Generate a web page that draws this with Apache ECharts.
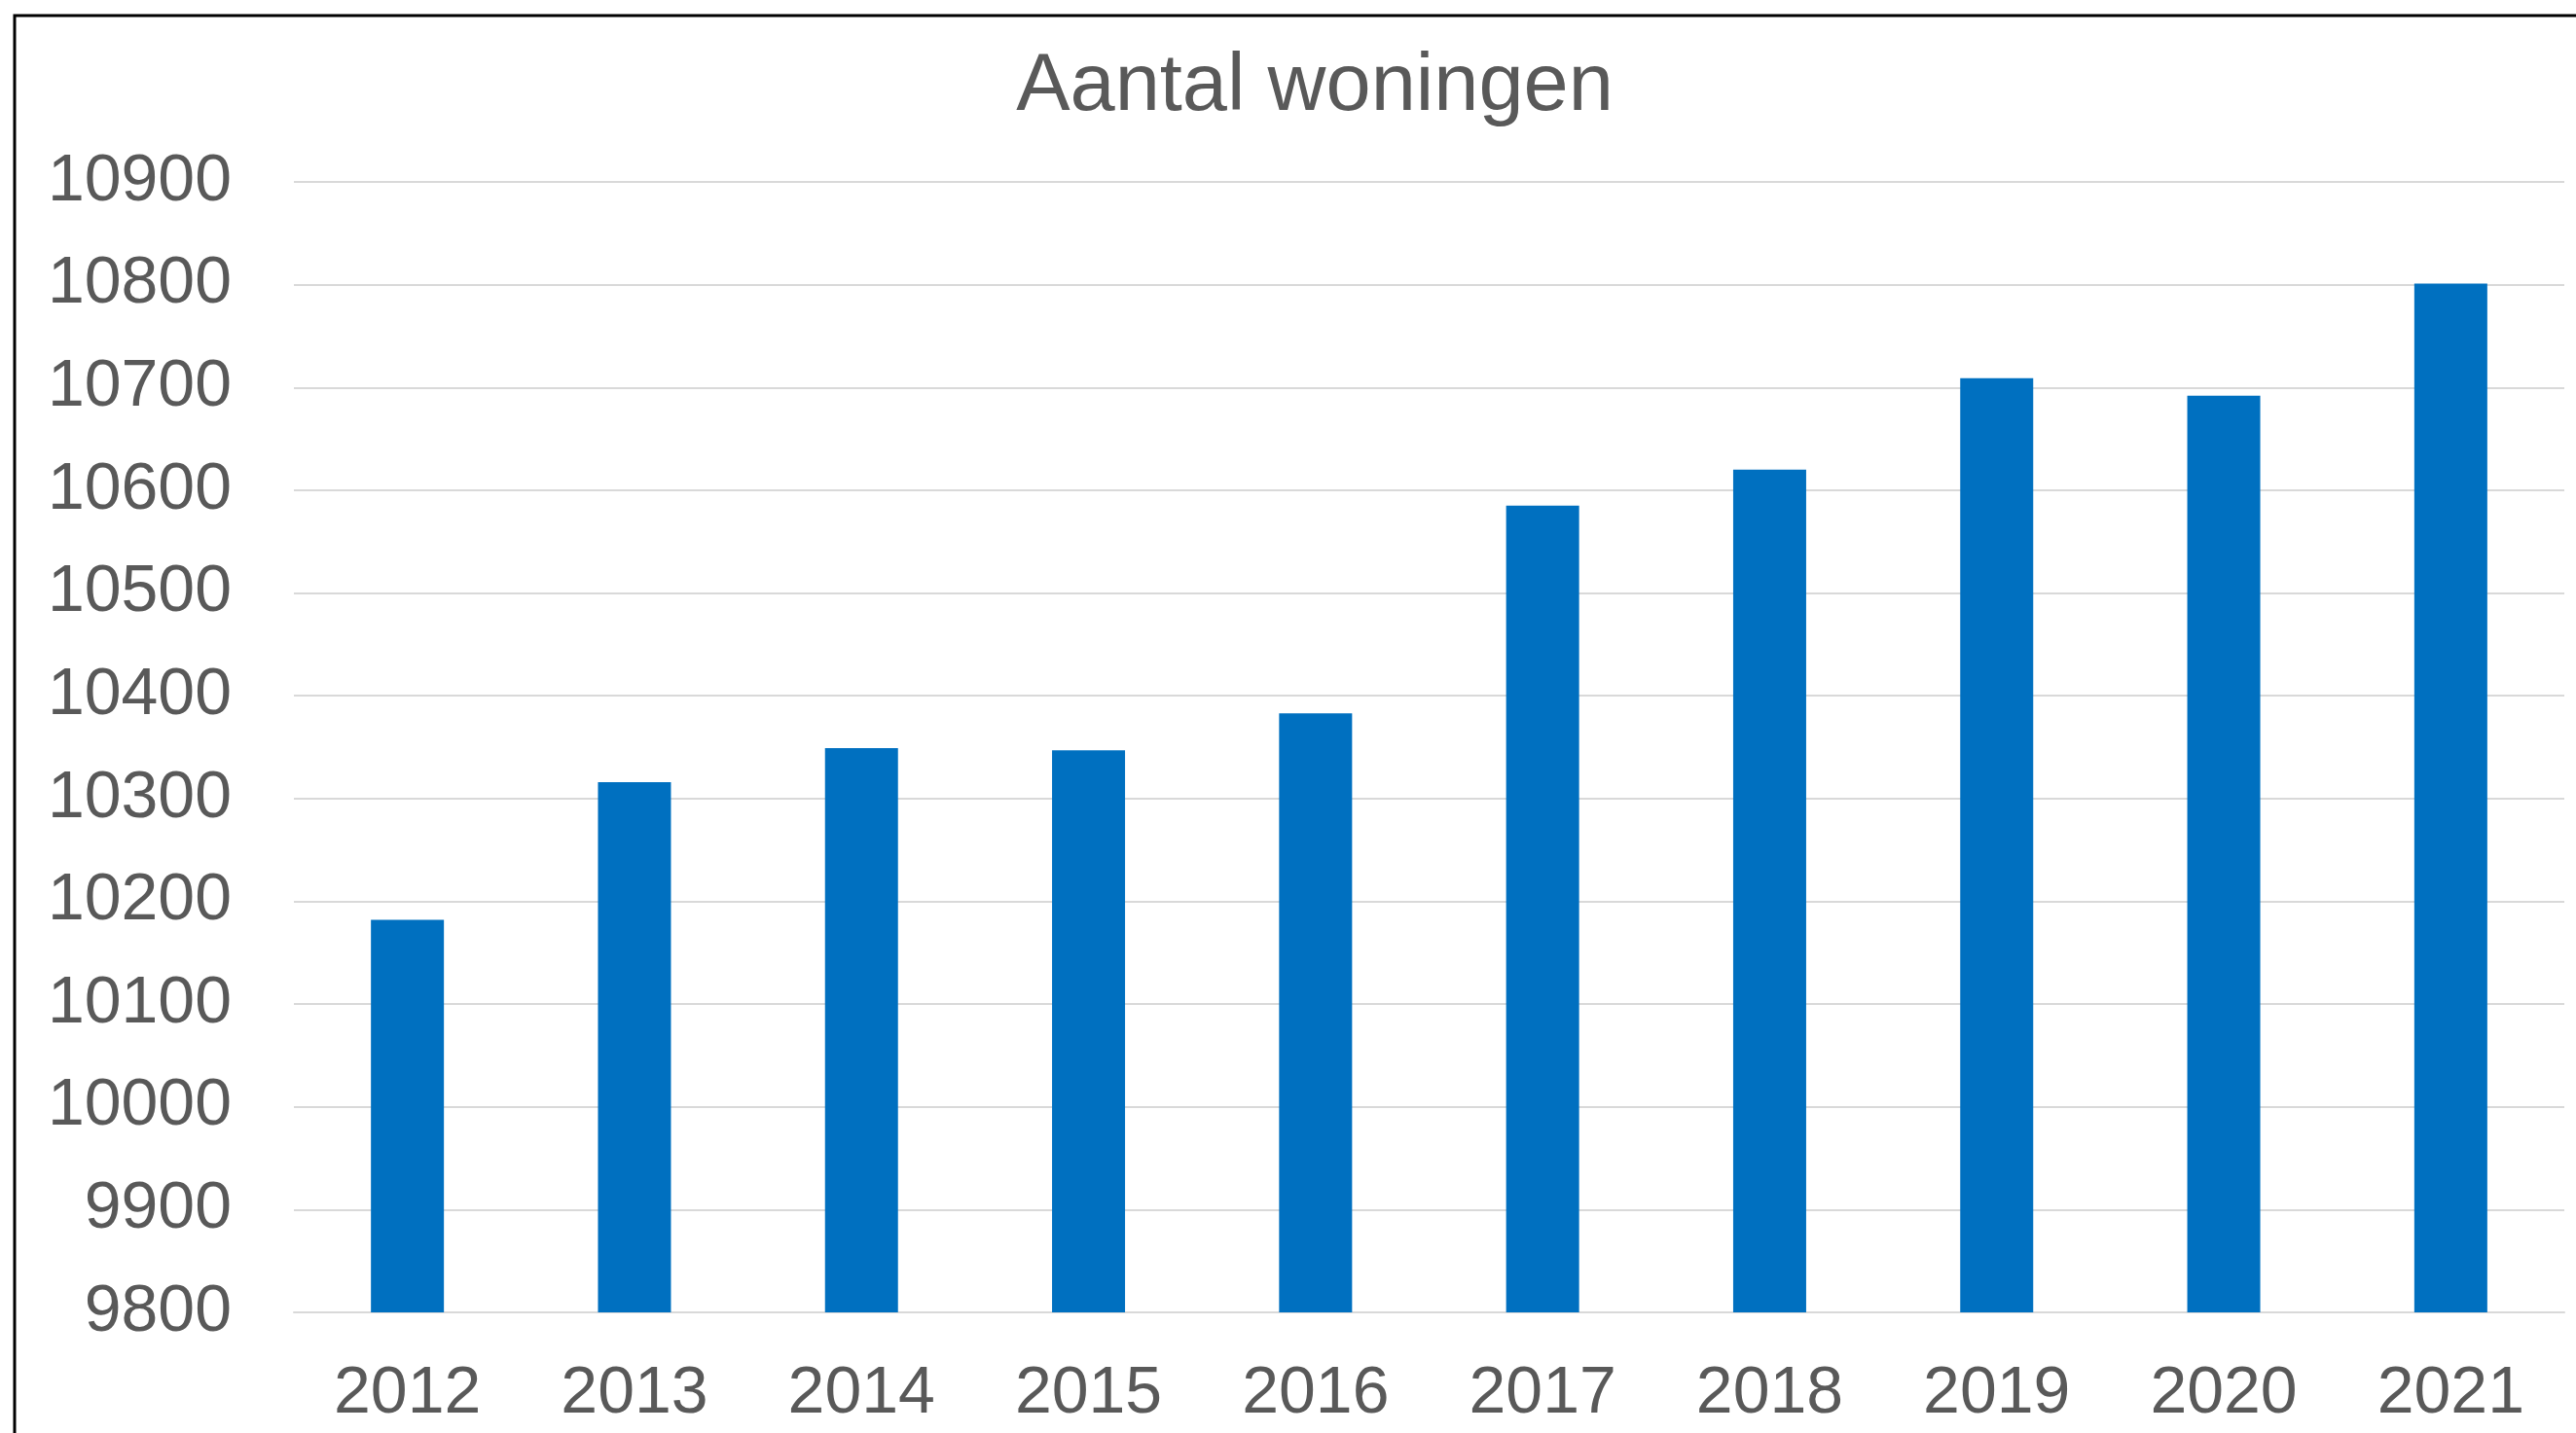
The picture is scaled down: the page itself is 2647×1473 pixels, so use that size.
<!DOCTYPE html>
<html>
<head>
<meta charset="utf-8">
<title>Aantal woningen</title>
<script src="https://cdn.jsdelivr.net/npm/echarts@6/dist/echarts.min.js"></script>
<style>
	html, body { margin: 0; padding: 0; background: #fff; }
	#chart { width: 2647px; height: 1473px; }
</style>
</head>
<body>
<div id="chart"></div>
<script>
// jaren en aantallen
const jaren = ['2012', '2013', '2014', '2015', '2016', '2017', '2018', '2019', '2020', '2021'];
const woningen = [10182, 10316, 10349, 10347, 10383, 10585, 10620, 10709, 10692, 10801];

const yMin = 9800;
const yMax = 10900;
const yStap = 100;

const tekstKleur = '#595959';
const font = '"Liberation Sans", Arial, sans-serif';

let myChart = echarts.init(document.getElementById('chart'));

let option = {
	backgroundColor: '#fff',
	animation: false,
	title: {
		text: 'Aantal woningen',
		left: 1346,
		textAlign: 'center',
		top: 44,
		textStyle: {
			color: tekstKleur,
			fontFamily: font,
			fontSize: 83,
			fontWeight: 'normal',
		},
	},
	graphic: [
		{
			type: 'rect',
			shape: { x: 15, y: 16, width: 2700, height: 1500 },
			style: { fill: 'none', stroke: '#000', lineWidth: 3 },
			silent: true,
		},
	],
	grid: {
		left: 302,
		right: 12,
		top: 187,
		bottom: 124,
	},
	xAxis: {
		type: 'category',
		data: jaren,
		axisTick: { show: false },
		axisLine: { lineStyle: { color: '#d9d9d9', width: 2 } },
		axisLabel: {
			color: tekstKleur,
			fontFamily: font,
			fontSize: 68,
			margin: 50,
		},
	},
	yAxis: {
		type: 'value',
		min: yMin,
		max: yMax,
		interval: yStap,
		axisLine: { show: false },
		axisTick: { show: false },
		splitLine: { lineStyle: { color: '#d9d9d9', width: 2 } },
		axisLabel: {
			color: tekstKleur,
			fontFamily: font,
			fontSize: 68,
			margin: 64,
			formatter: (v) => String(v),
		},
	},
	series: [
		{
			type: 'bar',
			data: woningen,
			barWidth: 75,
			itemStyle: { color: '#0070C0' },
		},
	],
};

myChart.setOption(option, true);
</script>
</body>
</html>
